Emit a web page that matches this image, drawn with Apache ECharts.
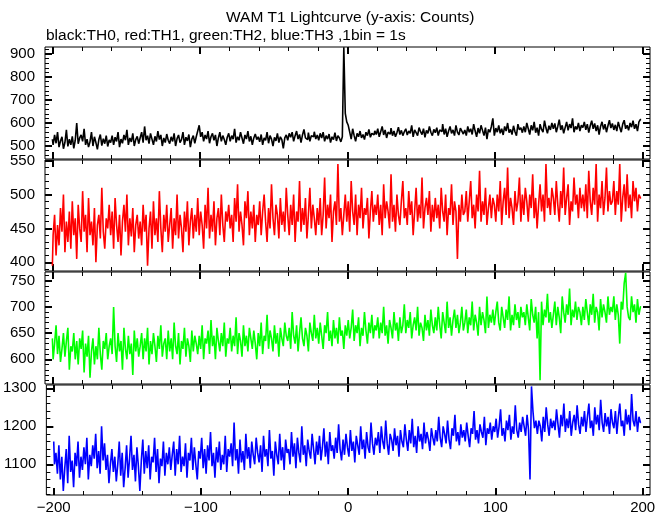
<!DOCTYPE html>
<html>
<head>
<meta charset="utf-8">
<script src="https://cdn.jsdelivr.net/npm/echarts@6/dist/echarts.min.js"></script>
<style>html,body{margin:0;padding:0;background:#fff}#c{width:669px;height:515px}</style>
</head>
<body>
<div id="c"></div>
<script>
// time bins (s), 1 bin = 1 s
var timeStart = -200;
var binCount = 400;

// TH0 (black)
var th0 = [
530,505,548,512,560,495,522,540,488,515,570,498,530,505,542,490,525,600,510,535,
548,520,575,505,530,495,518,560,500,540,515,485,528,550,502,532,510,545,498,526,
515,545,505,538,520,560,495,530,512,548,525,570,505,535,518,555,500,528,542,510,
536,560,515,585,525,545,510,555,530,505,542,520,565,528,548,500,535,515,552,525,
510,540,520,555,500,532,548,515,528,560,505,538,522,550,495,530,545,512,540,565,
590,540,560,520,548,530,565,512,540,555,525,548,500,535,560,520,545,528,505,538,
555,520,545,530,575,515,540,525,560,535,510,548,530,565,520,542,505,535,552,528,
540,518,550,505,535,525,560,512,545,530,500,538,522,555,515,540,528,490,535,548,
525,555,538,560,520,545,565,530,550,515,548,572,535,528,558,520,545,540,562,530,
548,525,555,535,560,520,545,530,552,515,540,528,558,522,545,535,518,540,929,642,
605,590,560,530,575,545,520,555,540,565,535,550,528,560,545,572,538,555,548,566,
550,575,540,562,585,548,570,535,560,552,578,545,565,540,558,582,550,568,545,562,
575,548,565,555,590,540,570,558,545,580,562,550,575,538,568,555,585,560,545,572,
558,580,545,570,562,595,550,575,540,565,585,555,570,545,590,560,548,578,565,552,
570,545,585,560,575,550,595,565,540,578,555,590,568,545,580,530,572,560,585,620,
545,578,560,590,555,575,548,585,565,600,558,572,550,588,562,545,595,570,580,558,
585,560,600,575,550,590,568,605,558,580,545,595,572,560,610,578,555,588,570,600,
575,598,560,585,615,570,590,555,580,605,568,595,578,620,560,585,572,600,565,590,
580,605,570,595,558,588,610,575,598,565,590,550,585,605,572,595,560,588,612,578,
598,570,592,565,605,580,560,595,612,575,590,568,600,582,610,575,595,565,605,615
];
// TH1 (red)
var th1 = [
395,440,470,410,455,425,480,445,500,415,460,430,475,420,490,440,465,405,485,450,
430,505,445,470,415,495,440,460,425,480,400,455,470,435,510,445,420,465,450,485,
440,475,420,495,455,430,470,410,460,485,445,500,425,465,438,480,415,455,470,435,
460,425,485,445,470,395,450,475,420,490,440,465,430,505,450,415,470,445,485,430,
455,480,420,465,440,500,435,470,450,415,475,445,490,425,460,480,435,470,445,495,
440,475,455,420,485,450,510,435,470,445,490,425,465,480,440,500,455,430,475,460,
485,450,470,430,495,460,515,445,475,455,425,490,465,505,440,475,450,485,430,470,
455,490,440,475,500,460,430,480,450,515,465,440,485,470,435,495,455,475,445,510,
470,440,485,455,500,430,475,460,520,445,480,455,495,435,470,510,450,485,465,440,
480,455,495,440,470,525,450,485,465,500,430,475,490,455,545,460,480,440,470,500,
460,490,445,520,475,455,500,440,485,465,510,450,480,470,495,435,475,505,460,485,
470,500,455,485,440,515,465,490,475,450,530,460,485,445,500,470,455,490,520,465,
480,455,505,470,490,440,475,510,460,485,465,525,450,480,495,470,505,445,485,460,
495,465,485,450,510,475,460,500,440,480,470,515,455,490,475,405,485,460,500,470,
475,505,460,490,520,465,485,450,500,475,535,460,490,470,510,455,480,500,465,495,
485,460,500,475,520,455,490,510,470,540,465,495,480,455,505,475,490,525,460,500,
470,510,490,460,500,480,530,465,495,450,485,515,475,500,460,545,480,495,470,510,
495,470,520,485,460,505,480,540,470,495,515,455,490,475,525,485,500,465,510,480,
500,475,515,465,535,490,470,510,485,545,460,500,480,520,470,495,540,475,505,485,
490,520,470,505,485,545,460,495,515,475,530,480,500,465,520,490,510,475,500,495
];
// TH2 (green)
var th2 = [
640,600,630,665,610,645,595,620,650,605,635,660,580,625,615,650,600,635,590,640,
620,655,575,630,605,645,565,615,640,590,625,600,660,610,580,635,620,650,600,625,
640,610,700,625,595,650,615,635,580,660,620,600,645,610,630,570,655,615,640,605,
625,650,600,640,615,660,590,635,610,650,625,595,645,620,665,605,630,640,600,655,
615,640,600,670,625,610,650,590,635,620,660,605,640,625,595,655,615,645,630,610,
645,620,665,600,640,630,655,610,675,625,645,600,660,635,615,650,625,670,605,640,
630,660,615,645,625,680,610,650,635,605,665,625,645,615,660,640,620,655,630,600,
650,625,670,610,645,635,685,620,655,640,615,665,630,650,605,660,640,625,670,645,
635,660,620,690,645,630,665,615,650,680,640,625,660,645,615,670,650,635,685,640,
660,630,670,645,620,665,650,690,635,655,625,675,640,660,630,680,645,655,620,665,
645,675,640,660,695,635,665,650,680,625,660,645,690,655,630,670,650,685,640,665,
655,680,640,670,650,700,645,665,630,675,660,640,690,655,670,635,680,650,665,705,
650,675,660,690,640,665,680,655,700,645,670,660,635,685,655,675,645,695,665,650,
680,655,700,665,640,690,670,650,710,660,680,645,675,695,660,685,650,670,700,655,
670,695,650,680,665,710,655,685,670,645,700,665,690,675,650,720,660,685,670,695,
665,690,710,670,655,700,680,660,695,675,720,655,685,665,705,675,690,660,700,680,
690,665,705,680,655,715,685,670,700,640,690,560,710,665,695,680,725,670,690,660,
685,710,665,700,680,650,720,690,670,705,685,735,665,695,680,710,675,700,690,665,
700,675,715,690,665,705,685,725,670,700,690,655,715,680,705,690,670,720,685,700,
690,720,675,705,685,630,710,695,745,765,700,680,675,720,690,705,670,715,685,700
];
// TH3 (blue)
var th3 = [
1160,1100,1130,1075,1150,1060,1120,1030,1090,1140,1050,1175,1080,1110,1040,1130,1095,1160,1065,1120,
1085,1145,1100,1170,1060,1125,1095,1150,1115,1180,1090,1135,1075,1200,1110,1155,1085,1125,1050,1100,
1140,1080,1120,1055,1100,1160,1070,1130,1040,1090,1150,1065,1115,1175,1085,1125,1055,1145,1095,1030,
1110,1165,1075,1135,1090,1150,1060,1120,1105,1170,1080,1140,1050,1115,1095,1160,1070,1130,1100,1145,
1085,1125,1160,1070,1140,1100,1175,1080,1120,1095,1155,1065,1130,1110,1170,1085,1145,1100,1060,1135,
1115,1170,1090,1140,1075,1150,1110,1185,1095,1130,1065,1145,1105,1160,1085,1125,1100,1175,1080,1140,
1120,1155,1095,1210,1110,1140,1075,1165,1105,1135,1085,1180,1115,1145,1090,1160,1125,1100,1170,1130,
1105,1150,1080,1175,1120,1140,1095,1190,1115,1135,1070,1160,1125,1100,1180,1110,1145,1085,1165,1130,
1140,1100,1185,1120,1155,1090,1170,1130,1105,1200,1125,1150,1095,1165,1135,1115,1180,1140,1100,1160,
1125,1175,1110,1145,1195,1120,1160,1100,1185,1135,1150,1115,1170,1130,1205,1140,1110,1165,1125,1180,
1145,1120,1190,1135,1160,1105,1175,1150,1125,1200,1140,1165,1115,1185,1145,1130,1210,1155,1125,1170,
1150,1185,1130,1200,1160,1140,1215,1155,1125,1180,1165,1135,1195,1150,1175,1120,1190,1160,1145,1205,
1165,1135,1190,1155,1220,1145,1175,1130,1200,1160,1180,1140,1210,1155,1185,1165,1135,1195,1170,1150,
1190,1160,1225,1170,1145,1200,1180,1155,1215,1165,1140,1195,1175,1230,1160,1185,1150,1205,1170,1190,
1160,1210,1175,1145,1195,1180,1240,1165,1190,1155,1205,1185,1170,1225,1150,1195,1180,1210,1165,1200,
1185,1220,1170,1200,1245,1175,1195,1160,1215,1190,1230,1165,1200,1180,1255,1190,1170,1210,1185,1225,
1200,1175,1230,1190,1060,1305,1240,1195,1215,1180,1215,1200,1160,1225,1185,1250,1205,1175,1220,1195,
1215,1190,1245,1205,1170,1230,1200,1260,1185,1220,1195,1240,1175,1210,1230,1190,1255,1205,1180,1225,
1200,1240,1185,1225,1260,1195,1215,1175,1250,1205,1230,1190,1270,1210,1185,1235,1200,1225,1180,1245,
1210,1195,1240,1180,1225,1260,1200,1215,1175,1245,1205,1230,1190,1285,1215,1200,1240,1185,1225,1210
];

var xTickMajor = [-200, -100, 0, 100, 200];
var xTickMinor = [-200,-180,-160,-140,-120,-100,-80,-60,-40,-20,0,20,40,60,80,100,120,140,160,180,200];

var panelSeries = [th0, th1, th2, th3];
var panelColors = ['#000000', '#ff0000', '#00ff00', '#0000ff'];
var yRanges = [[443.5, 930.4], [387.1, 551], [552.9, 766.6], [1019.2, 1308.7]];
var yMajor = [
  [500, 600, 700, 800, 900],
  [400, 450, 500, 550],
  [600, 650, 700, 750],
  [1100, 1200, 1300]
];
var yMinor = [
  [460,480,500,520,540,560,580,600,620,640,660,680,700,720,740,760,780,800,820,840,860,880,900,920],
  [390,400,410,420,430,440,450,460,470,480,490,500,510,520,530,540,550],
  [560,570,580,590,600,610,620,630,640,650,660,670,680,690,700,710,720,730,740,750,760],
  [1020,1040,1060,1080,1100,1120,1140,1160,1180,1200,1220,1240,1260,1280,1300]
];
var gridTops = [47, 160, 272, 385];
var gridHeights = [112, 111, 112, 110];

var FONT = 'Liberation Sans';
var grids = [], xAxes = [], yAxes = [], series = [];

function mk(arr) {
  var out = [];
  for (var i = 0; i < arr.length; i++) out.push([timeStart + i, arr[i]]);
  return out;
}

for (var p = 0; p < 4; p++) {
  grids.push({left: 45, width: 605, top: gridTops[p], height: gridHeights[p],
    show: true, borderColor: '#000', borderWidth: 1, backgroundColor: 'transparent'});
  var xdefs = [
    {pos: 'bottom', vals: xTickMajor, len: 7, w: 2, label: p === 3},
    {pos: 'top', vals: xTickMajor, len: 7, w: 2, label: false},
    {pos: 'bottom', vals: xTickMinor, len: 4, w: 1, label: false},
    {pos: 'top', vals: xTickMinor, len: 4, w: 1, label: false}
  ];
  xdefs.forEach(function (d) {
    xAxes.push({
      type: 'value', gridIndex: p, position: d.pos, min: -205, max: 205,
      axisLine: {show: false, onZero: false}, splitLine: {show: false},
      axisTick: {show: true, inside: true, length: d.len, customValues: d.vals,
        lineStyle: {color: '#000', width: d.w}},
      axisLabel: {show: d.label, customValues: xTickMajor, margin: 5,
        fontFamily: FONT, fontSize: 15, color: '#000',
        formatter: function (v) { return String(v).replace('-', '\u2212'); }}
    });
  });
  var ydefs = [
    {pos: 'left', vals: yMajor[p], len: 7, w: 2, label: true},
    {pos: 'right', vals: yMajor[p], len: 7, w: 2, label: false},
    {pos: 'left', vals: yMinor[p], len: 4, w: 1, label: false},
    {pos: 'right', vals: yMinor[p], len: 4, w: 1, label: false}
  ];
  ydefs.forEach(function (d) {
    yAxes.push({
      type: 'value', gridIndex: p, position: d.pos, min: yRanges[p][0], max: yRanges[p][1],
      axisLine: {show: false, onZero: false}, splitLine: {show: false},
      axisTick: {show: true, inside: true, length: d.len, customValues: d.vals,
        lineStyle: {color: '#000', width: d.w}},
      axisLabel: {show: d.label, customValues: yMajor[p], margin: 10,
        fontFamily: FONT, fontSize: 15, color: '#000',
        formatter: function (v) { return String(v); }}
    });
  });
  series.push({
    type: 'line', xAxisIndex: p * 4, yAxisIndex: p * 4, data: mk(panelSeries[p]),
    showSymbol: false, step: 'middle', clip: true,
    lineStyle: {color: panelColors[p], width: 1.6}, itemStyle: {color: panelColors[p]},
    animation: false
  });
}

var chart = echarts.init(document.getElementById('c'), null, {renderer: 'canvas'});
chart.setOption({
  animation: false,
  backgroundColor: '#fff',
  title: [
    {text: 'WAM T1 Lightcurve (y-axis: Counts)', left: 226, top: 10, padding: 0,
      textStyle: {fontFamily: FONT, fontSize: 15.5, fontWeight: 'normal', color: '#000'}},
    {text: 'black:TH0, red:TH1, green:TH2, blue:TH3 ,1bin = 1s', left: 46, top: 28, padding: 0,
      textStyle: {fontFamily: FONT, fontSize: 15.5, fontWeight: 'normal', color: '#000'}}
  ],
  grid: grids, xAxis: xAxes, yAxis: yAxes, series: series
});
</script>
</body>
</html>
